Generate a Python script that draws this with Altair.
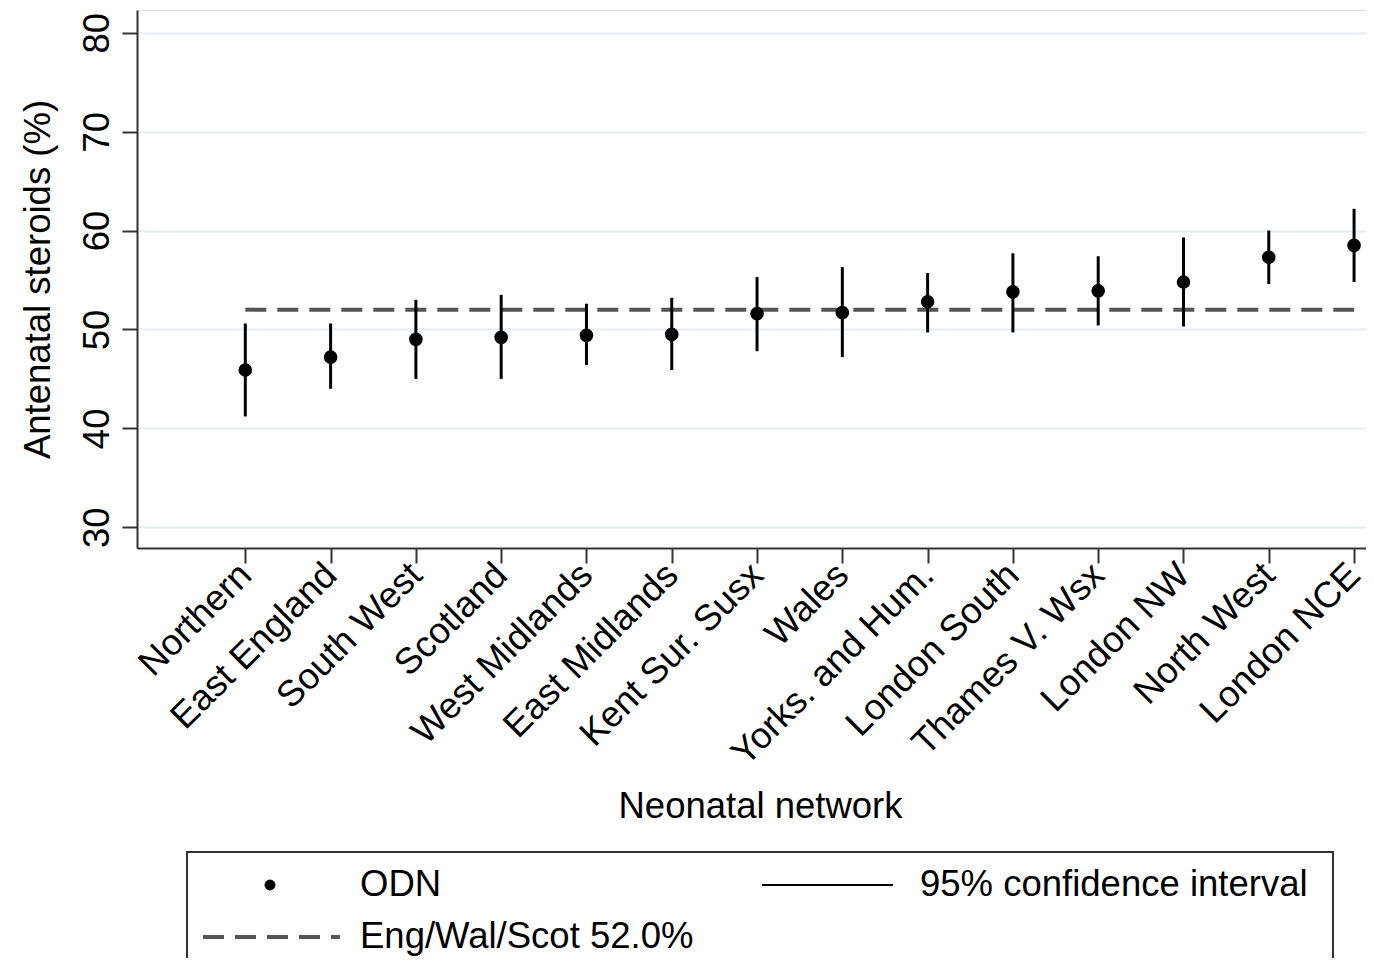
import json
import altair as alt
import pandas as pd

# ---------------- data ----------------
networks = ["Northern", "East England", "South West", "Scotland", "West Midlands",
            "East Midlands", "Kent Sur. Susx", "Wales", "Yorks. and Hum.",
            "London South", "Thames V. Wsx", "London NW", "North West", "London NCE"]
estimate = [45.9, 47.2, 49.0, 49.2, 49.4, 49.5, 51.6, 51.7, 52.8, 53.8, 53.9, 54.8, 57.3, 58.5]
ci_low = [41.2, 44.0, 45.0, 45.0, 46.4, 45.9, 47.8, 47.2, 49.7, 49.7, 50.4, 50.3, 54.6, 54.8]
ci_high = [50.6, 50.6, 53.0, 53.5, 52.6, 53.2, 55.3, 56.3, 55.7, 57.7, 57.4, 59.3, 60.0, 62.2]
national = 52.0
y_ticks = [30, 40, 50, 60, 70, 80]

legend_labels = ["ODN", "95% confidence interval", "Eng/Wal/Scot 52.0%"]

# ---------------- setup ----------------
W, H = 1229, 538
FONT = "Liberation Sans"
FS = 36.5

positions = list(range(1, len(networks) + 1))
df = pd.DataFrame({"network": networks, "pos": positions,
                   "est": estimate, "lo": ci_low, "hi": ci_high})
ref = pd.DataFrame({"pos": [positions[0], positions[-1]], "val": [national, national]})
one = pd.DataFrame({"k": [0]})

label_expr = json.dumps(networks) + "[datum.value - 1]"

xscale = alt.Scale(domain=[-0.27, 14.14], nice=False, zero=False)
yscale = alt.Scale(domain=[27.9, 82.3], nice=False, zero=False)

x_axis = alt.Axis(values=positions, labelExpr=label_expr, grid=False, tickSize=15,
                  tickWidth=2, tickColor="#333333", domainColor="#333333", domainWidth=2,
                  labelAngle=315, labelAlign="right", labelBaseline="middle",
                  labelPadding=6, labelFont=FONT, labelFontSize=FS, labelColor="black",
                  labelFlush=False, labelOverlap=False, labelBound=False, labelLimit=0,
                  title="Neonatal network", titleFont=FONT, titleFontSize=FS,
                  titleFontWeight="normal", titleColor="black",
                  titleX=623, titleY=258, titleAlign="center", titleBaseline="middle")

y_axis = alt.Axis(values=y_ticks, grid=True, gridColor="#e5eef0", gridWidth=2,
                  tickSize=15, tickWidth=2, tickColor="#333333",
                  domainColor="#333333", domainWidth=2,
                  labelAngle=270, labelAlign="center", labelBaseline="middle",
                  labelPadding=25, labelFont=FONT, labelFontSize=FS, labelColor="black",
                  labelFlush=False, labelOverlap=False, labelLimit=0,
                  title="Antenatal steroids (%)", titleFont=FONT, titleFontSize=FS,
                  titleFontWeight="normal", titleColor="black", titleAngle=270,
                  titleX=-99, titleY=269, titleAlign="center", titleBaseline="middle")

base = alt.Chart(df)

ref_line = alt.Chart(ref).mark_line(color="#555555", strokeWidth=4, strokeDash=[21, 11]).encode(
    x=alt.X("pos:Q", scale=xscale, axis=x_axis),
    y=alt.Y("val:Q", scale=yscale, axis=y_axis),
)

ci = base.mark_rule(color="black", strokeWidth=3).encode(
    x=alt.X("pos:Q", scale=xscale),
    y=alt.Y("lo:Q", scale=yscale),
    y2="hi:Q",
)

pts = base.mark_circle(color="black", opacity=1, size=185).encode(
    x=alt.X("pos:Q", scale=xscale),
    y=alt.Y("est:Q", scale=yscale),
)

# ---------------- legend (decoration) ----------------
leg = alt.Chart(one)
box = leg.mark_rect(fill="white", stroke="#333333", strokeWidth=2).encode(
    x=alt.value(50), x2=alt.value(1196), y=alt.value(842), y2=alt.value(1000))
leg_dot = leg.mark_circle(color="black", opacity=1, size=120).encode(
    x=alt.value(133), y=alt.value(875))
leg_solid = leg.mark_rule(color="black", strokeWidth=2).encode(
    x=alt.value(625), x2=alt.value(756), y=alt.value(875))
leg_dash = leg.mark_rule(color="#555555", strokeWidth=4, strokeDash=[21, 11]).encode(
    x=alt.value(66), x2=alt.value(203), y=alt.value(927))
txt_kw = dict(align="left", baseline="middle", font=FONT, fontSize=FS, color="black")
t1 = leg.mark_text(**txt_kw).encode(x=alt.value(223), y=alt.value(875), text=alt.value(legend_labels[0]))
t2 = leg.mark_text(**txt_kw).encode(x=alt.value(783), y=alt.value(875), text=alt.value(legend_labels[1]))
t3 = leg.mark_text(**txt_kw).encode(x=alt.value(223), y=alt.value(927), text=alt.value(legend_labels[2]))

chart = alt.layer(ref_line, ci, pts, box, leg_dot, leg_solid, leg_dash, t1, t2, t3).properties(
    width=W, height=H,
    autosize=alt.AutoSizeParams(type="none"),
    padding={"left": 129, "top": 2, "right": 0, "bottom": 410},
).configure_view(stroke=None).configure(background="white")

chart.save("out.html", embed_options={"renderer": "svg", "actions": False})
